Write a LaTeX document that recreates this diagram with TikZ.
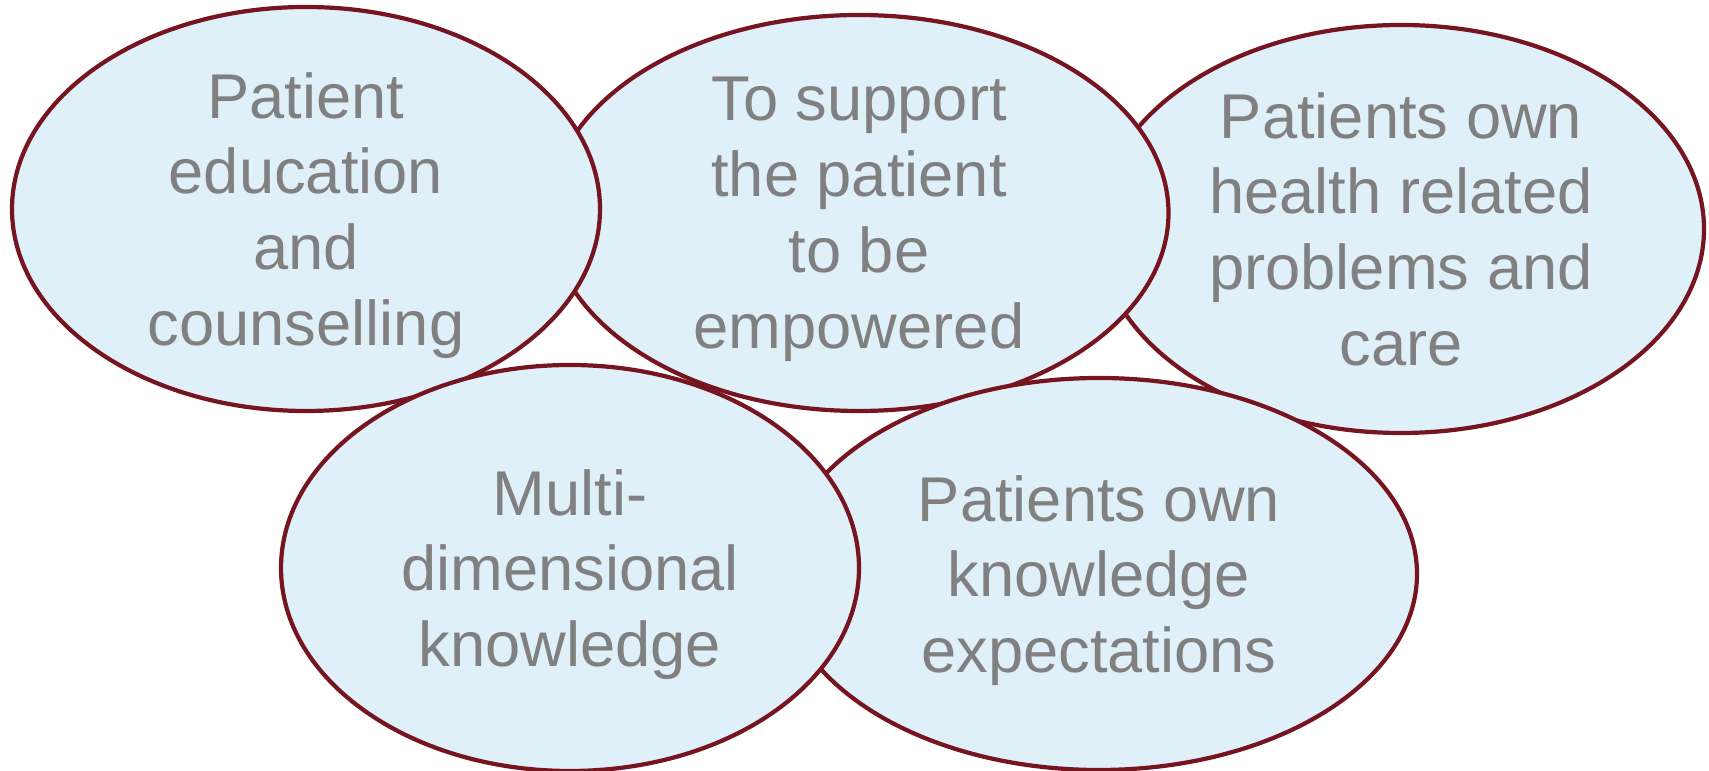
\documentclass[tikz,border=0pt]{standalone}
\usepackage{fontspec}
\setmainfont{Liberation Sans}
\definecolor{sky}{RGB}{223,240,249}
\definecolor{rim}{RGB}{118,21,32}
\definecolor{ink}{RGB}{128,128,128}
\tikzset{
  bubble/.style={fill=sky, draw=rim, line width=1.2pt},
  say/.style={text=ink, align=center, text depth=0pt, font=\fontsize{18}{21.6}\selectfont}
}
% back to front: each ellipse hides the rim of the one drawn before it
\def\bubbles{own/3.03/2.04, sup/3.095/1.98, edu/2.94/2.02, expect/3.18/1.96, multi/2.89/2.03}
\begin{document}
\begin{tikzpicture}[scale=1.0]
\useasboundingbox (0,0) rectangle (17.09,7.71);
\coordinate (edu) at (3.06,5.62);
\coordinate (sup) at (8.59,5.58);
\coordinate (own) at (14.01,5.42);
\coordinate (multi) at (5.70,2.03);
\coordinate (expect) at (10.99,1.97);
\foreach \c/\a/\b in \bubbles
  \draw[bubble] (\c) ellipse [x radius=\a, y radius=\b];
\node[say] (edu text) at (edu) {Patient\\education\\and\\counselling};
\node[say] (sup text) at (sup) {To support\\the patient\\to be\\empowered};
\node[say] (own text) at (own) {Patients own\\health related\\problems and\\care};
\node[say] (multi text) at (multi) {Multi-\\dimensional\\knowledge};
\node[say] (expect text) at (expect) {Patients own\\knowledge\\expectations};
\end{tikzpicture}
\end{document}
